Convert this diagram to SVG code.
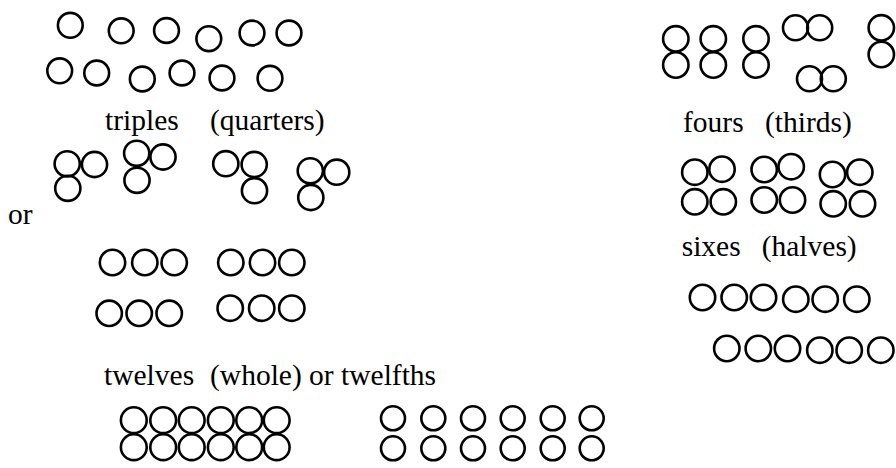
<svg xmlns="http://www.w3.org/2000/svg" width="896" height="468" viewBox="0 0 896 468">
<style>
circle{fill:none;stroke:#000;stroke-width:2.6}
.t{font-family:'Liberation Serif','Times New Roman',Times,'DejaVu Serif',serif;font-size:29.5px;fill:#000}
</style>
<rect width="896" height="468" fill="#fff"/>
<g id="loose-top" >
<circle cx="70.3" cy="25.3" r="12.4"/><circle cx="121.2" cy="30.8" r="12.4"/><circle cx="166.5" cy="30.5" r="12.4"/><circle cx="208.8" cy="38.7" r="12.4"/><circle cx="252" cy="33" r="12.4"/><circle cx="289" cy="33" r="12.4"/>
<circle cx="59.7" cy="70.8" r="12.4"/><circle cx="96.7" cy="73" r="12.4"/><circle cx="142.3" cy="79" r="12.4"/><circle cx="182" cy="73" r="12.4"/><circle cx="222" cy="78" r="12.4"/><circle cx="270" cy="78.3" r="12.4"/>
</g>
<g id="fours">
<circle cx="675.8" cy="38.8" r="12.7"/><circle cx="675.8" cy="65" r="12.7"/>
<circle cx="713.3" cy="38.8" r="12.7"/><circle cx="713.3" cy="65" r="12.7"/>
<circle cx="756" cy="38.8" r="12.7"/><circle cx="756" cy="65" r="12.7"/>
<circle cx="795.5" cy="27.8" r="12.5"/><circle cx="819.7" cy="27.8" r="12.5"/>
<circle cx="809.5" cy="78.8" r="12.5"/><circle cx="833.3" cy="78.8" r="12.5"/>
<circle cx="881.3" cy="27.8" r="12.7"/><circle cx="881.3" cy="54.5" r="12.7"/>
</g>
<text id="label-triples" class="t" y="130"><tspan x="105">triples</tspan><tspan x="210">(quarters)</tspan></text>
<text id="label-fours" class="t" y="131.7"><tspan x="683">fours</tspan><tspan x="765">(thirds)</tspan></text>
<g id="triples">
<circle cx="67.2" cy="163.8" r="12.6"/><circle cx="94.5" cy="164.5" r="12.6"/><circle cx="67.8" cy="188.3" r="12.6"/>
<circle cx="136.7" cy="153.3" r="12.6"/><circle cx="163" cy="157" r="12.6"/><circle cx="137" cy="180.3" r="12.6"/>
<circle cx="225.8" cy="163.7" r="12.6"/><circle cx="254.2" cy="164.5" r="12.6"/><circle cx="254.5" cy="190.7" r="12.6"/>
<circle cx="310.3" cy="170.8" r="12.6"/><circle cx="336.7" cy="172.2" r="12.6"/><circle cx="310.8" cy="197.5" r="12.6"/>
</g>
<g id="fours-square">
<circle cx="694.8" cy="172.2" r="12.7"/><circle cx="722" cy="169.2" r="12.7"/><circle cx="694.8" cy="201.8" r="12.7"/><circle cx="723.3" cy="201.8" r="12.7"/>
<circle cx="764.2" cy="169.5" r="12.7"/><circle cx="791.2" cy="166.7" r="12.7"/><circle cx="764.2" cy="200" r="12.7"/><circle cx="792.5" cy="200" r="12.7"/>
<circle cx="832.5" cy="174.5" r="12.7"/><circle cx="859.8" cy="172.2" r="12.7"/><circle cx="833.2" cy="203.8" r="12.7"/><circle cx="862.5" cy="203.8" r="12.7"/>
</g>
<text id="label-or" class="t" x="8" y="224">or</text>
<text id="label-sixes" class="t" y="256"><tspan x="681.7">sixes</tspan><tspan x="761.7">(halves)</tspan></text>
<g id="triples-rows">
<circle cx="112.5" cy="262.5" r="12.7"/><circle cx="144.8" cy="262.5" r="12.7"/><circle cx="174.2" cy="262.5" r="12.7"/>
<circle cx="230.8" cy="262.5" r="12.7"/><circle cx="262.5" cy="262.5" r="12.7"/><circle cx="291.8" cy="262.5" r="12.7"/>
<circle cx="109.2" cy="313.3" r="12.7"/><circle cx="139.2" cy="313.3" r="12.7"/><circle cx="169.2" cy="313.3" r="12.7"/>
<circle cx="230.2" cy="308.2" r="12.7"/><circle cx="261.7" cy="308.2" r="12.7"/><circle cx="291.8" cy="308.2" r="12.7"/>
</g>
<g id="sixes-rows">
<circle cx="702.5" cy="297.5" r="12.7"/><circle cx="734.2" cy="297.5" r="12.7"/><circle cx="763.5" cy="297.5" r="12.7"/><circle cx="795.8" cy="299.2" r="12.7"/><circle cx="825.2" cy="299.2" r="12.7"/><circle cx="856.8" cy="299.2" r="12.7"/>
<circle cx="726.8" cy="348.5" r="12.7"/><circle cx="758.3" cy="348.5" r="12.7"/><circle cx="787.5" cy="348.5" r="12.7"/><circle cx="819.8" cy="350.2" r="12.7"/><circle cx="849.2" cy="350.2" r="12.7"/><circle cx="880.8" cy="350.2" r="12.7"/>
</g>
<text id="label-twelves" class="t" y="385"><tspan x="104">twelves</tspan><tspan x="210">(whole) or twelfths</tspan></text>
<g id="twelves-packed">
<circle cx="133.8" cy="420.2" r="12.9"/><circle cx="163.2" cy="420.2" r="12.9"/><circle cx="191.7" cy="420.2" r="12.9"/><circle cx="220.8" cy="420.2" r="12.9"/><circle cx="249.2" cy="420.2" r="12.9"/><circle cx="276.7" cy="420.2" r="12.9"/>
<circle cx="133.8" cy="447.2" r="12.9"/><circle cx="163.2" cy="447.2" r="12.9"/><circle cx="191.7" cy="447.2" r="12.9"/><circle cx="220.8" cy="447.2" r="12.9"/><circle cx="249.2" cy="447.2" r="12.9"/><circle cx="276.7" cy="447.2" r="12.9"/>
</g>
<g id="twelfths-spaced">
<circle cx="393" cy="418.3" r="12"/><circle cx="433.3" cy="418.3" r="12"/><circle cx="473" cy="418.3" r="12"/><circle cx="512.7" cy="418.3" r="12"/><circle cx="552.7" cy="418.3" r="12"/><circle cx="591.7" cy="418.3" r="12"/>
<circle cx="393" cy="448.3" r="12"/><circle cx="433.3" cy="448.3" r="12"/><circle cx="473" cy="448.3" r="12"/><circle cx="512.7" cy="448.3" r="12"/><circle cx="552.7" cy="448.3" r="12"/><circle cx="591.7" cy="448.3" r="12"/>
</g>
</svg>
